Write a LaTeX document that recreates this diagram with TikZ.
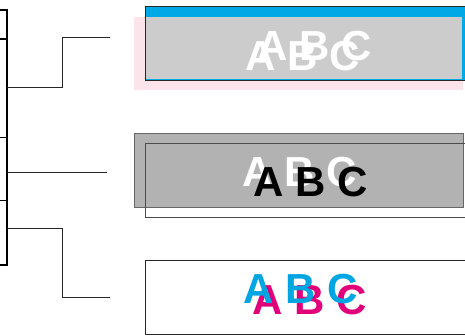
\documentclass[tikz,border=0pt]{standalone}
\usepackage{fontspec}
\setmainfont{Liberation Sans}
\usetikzlibrary{positioning}

\definecolor{bandblue}{RGB}{0,169,230}
\definecolor{softpink}{RGB}{252,228,234}
\definecolor{inkcyan}{RGB}{0,166,226}
\definecolor{inkmagenta}{RGB}{226,0,122}

\begin{document}
\begin{tikzpicture}[x=1pt,y=-1pt,
  abc/.style={font=\bfseries\fontsize{42}{42}\selectfont, inner sep=0pt, anchor=base west},
  panel/.style={minimum width=325pt, minimum height=74pt, inner sep=0pt, anchor=north west},
  wire/.style={black!85, line width=0.9pt}]
\useasboundingbox (0,0) rectangle (465,335);
\draw[line width=2pt] (-5,10) -- (7,10) -- (7,265) -- (-5,265);
\draw[line width=2pt] (-5,39) -- (7,39);
\draw[line width=1pt] (-5,137) -- (7,137);
\draw[line width=1pt] (-5,200) -- (7,200);
\coordinate (tapa) at (7,87);
\coordinate (tapb) at (7,172);
\coordinate (tapc) at (7,228);
\coordinate (enda) at (110,37);
\coordinate (endb) at (107,172);
\coordinate (endc) at (110,297);
\draw[wire] (tapa) -- ++(55,0) |- (enda);
\draw[wire] (tapb) -- (endb);
\draw[wire] (tapc) -- ++(55,0) |- (endc);
\fill[softpink] (134,17) rectangle (463,90);
\node[panel, fill=bandblue, draw=black!85, line width=1.4pt] (topbox) at (145,6) {};
\fill[black!20] (146,17) rectangle (462,79);
\node[abc, white] (topabc) at (245,70) {A B C};
\node[abc, white] (topabcb) at (257,60) {A B C};
\node[panel, fill=black!30, draw=black!60, line width=1pt, minimum width=329pt] (midbox) at (134,133) {};
\node[abc, white] (midabc) at (242,186) {A B C};
\node[abc, black] (midabcb) at (253,196) {A B C};
\node[panel, draw=black!70, line width=1.2pt] (midframe) at (145,143) {};
\node[panel, fill=white, draw=black!85, line width=1.4pt] (lowbox) at (145,260) {};
\node[abc, inkmagenta] (lowabcb) at (252,314) {A B C};
\node[abc, inkcyan] (lowabc) at (243,303) {A B C};
\end{tikzpicture}
\end{document}
